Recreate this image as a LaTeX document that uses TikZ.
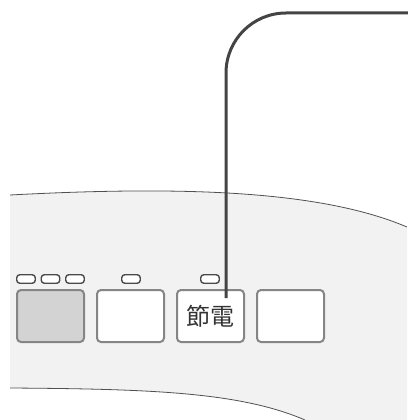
\documentclass[tikz,border=0pt]{standalone}
\usepackage{fontspec}
\newfontfamily\cjk{Noto Sans CJK JP}
\usetikzlibrary{positioning}
\definecolor{panelgray}{HTML}{F2F2F2}
\definecolor{edgegray}{HTML}{505050}
\definecolor{keygray}{HTML}{858585}
\definecolor{keyfill}{HTML}{D3D3D3}
\definecolor{ledgray}{HTML}{4A4A4A}
\definecolor{linegray}{HTML}{444444}
\definecolor{textgray}{HTML}{333333}

\begin{document}
\begin{tikzpicture}[x=1pt, y=-1pt, node distance=80pt,
                    key node/.style={rectangle,draw=keygray,line width=2pt,rounded corners=4pt,fill=white,
                                     minimum width=67pt,minimum height=52pt,inner sep=0pt,text=textgray},
                    led node/.style={rectangle,draw=ledgray,line width=1.4pt,rounded corners=3pt,fill=white,
                                     minimum width=18.5pt,minimum height=8.5pt,inner sep=0pt},
                    outline/.style={draw=edgegray,line width=0.8pt},
                    leader/.style={draw=linegray,line width=3pt,rounded corners=60pt}]

  \useasboundingbox (0,0) rectangle (407,420);

  % panel
  \fill[panelgray] (10,195) .. controls (180,186) and (320,190) .. (407,227)
    -- (407,420) -- (305,420) .. controls (240,392) and (150,389) .. (10,388) -- cycle;
  \draw[outline] (10,195) .. controls (180,186) and (320,190) .. (407,227);
  \draw[outline] (10,388) .. controls (150,389) and (240,392) .. (305,420);

  % keys
  \node[key node,fill=keyfill] (k1) at (50.5,316) {};
  \node[key node] (k2) [right of=k1] {};
  \node[key node] (k3) [right of=k2] {\cjk\fontsize{24}{24}\selectfont 節電};
  \node[key node] (k4) [right of=k3] {};

  % lamps
  \node[led node] (l1) at (26,279) {};
  \node[led node] (l2) at (50.5,279) {};
  \node[led node] (l3) at (75,279) {};
  \node[led node] (l4) at (131,279) {};
  \node[led node] (l5) at (210,279) {};

  % pointer
  \coordinate (tip) at (226,298);
  \coordinate (end) at (412,13);
  \draw[leader] (tip) |- (end);

\end{tikzpicture}
\end{document}
